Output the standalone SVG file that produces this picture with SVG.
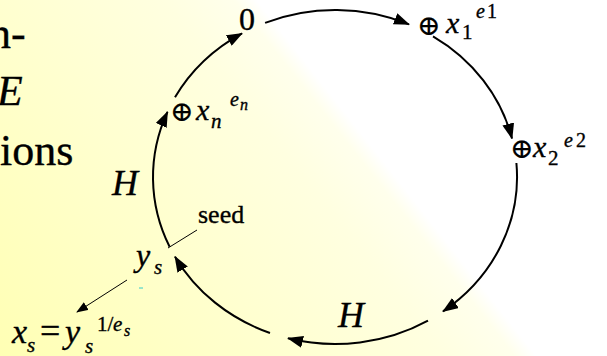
<svg xmlns="http://www.w3.org/2000/svg" width="607" height="356" viewBox="0 0 607 356">
  <defs>
    <linearGradient id="bg" gradientUnits="userSpaceOnUse" x1="-173" y1="136" x2="375" y2="-295">
      <stop offset="0" stop-color="#FFFFB4"/>
      <stop offset="0.25" stop-color="#FFFFCA"/>
      <stop offset="0.5" stop-color="#FFFFE0"/>
      <stop offset="0.58" stop-color="#FFFFEC"/>
      <stop offset="0.605" stop-color="#FFFFFF"/>
      <stop offset="1" stop-color="#FFFFFF"/>
    </linearGradient>
    <marker id="ah" viewBox="0 0 16 12" refX="15" refY="6" markerWidth="16" markerHeight="12" markerUnits="userSpaceOnUse" orient="auto">
      <path d="M0,0 L16,6 L0,12 z" fill="#000"/>
    </marker>
    <marker id="ahs" viewBox="0 0 12 9" refX="11" refY="4.5" markerWidth="12" markerHeight="9" markerUnits="userSpaceOnUse" orient="auto">
      <path d="M0,0 L12,4.5 L0,9 z" fill="#000"/>
    </marker>
  </defs>
  <style>
    text { font-family: "Liberation Serif", "DejaVu Serif", serif; fill: #000; stroke: #000; stroke-width: 0.35; }
    .i { font-style: italic; }
    .op { font-family: "DejaVu Serif", "DejaVu Sans", serif; stroke-width: 0.2; }
    .arc { fill: none; stroke: #000; stroke-width: 2; marker-end: url(#ah); }
    .thin { fill: none; stroke: #000; stroke-width: 1; }
  </style>

  <rect x="0" y="0" width="607" height="356" fill="url(#bg)"/>

  <g id="slide-text">
    <text x="-11" y="48" font-size="44">n-</text>
    <text class="i" x="-3" y="105" font-size="42">E</text>
    <text x="0" y="165" font-size="44">ions</text>
  </g>

  <g id="connectors">
    <path class="arc" d="M265.1,22.9 A182,167 0 0 1 409,24.4"/>
    <path class="arc" d="M433,36.4 A182,167 0 0 1 512,138.5"/>
    <path class="arc" d="M516.4,163 A182,167 0 0 1 443,311.4"/>
    <path class="arc" d="M428,320.6 A182,167 0 0 1 288,338.3"/>
    <path class="arc" d="M270,333 A182,167 0 0 1 175,256.7"/>
    <path class="arc" d="M169.6,246.8 A182,167 0 0 1 167.5,111.8"/>
    <path class="arc" d="M175,97.3 A182,167 0 0 1 242,33.4"/>
    <path class="thin" d="M197,230 L168,248"/>
    <path class="thin" d="M127,280 L77,312" marker-end="url(#ahs)"/>
    <path d="M139,288 L143,288" stroke="#33CCCC" stroke-width="1"/>
    <text class="i" x="112" y="195" font-size="36">H</text>
    <text class="i" x="338" y="327" font-size="36">H</text>
    <text x="198" y="223" font-size="26">seed</text>
  </g>

  <g id="node-0">
    <text x="239" y="30" font-size="32">0</text>
  </g>

  <g id="node-x1">
    <text class="op" x="417" y="34.5" font-size="28">⊕</text>
    <text class="i" x="446" y="33" font-size="30">x</text>
    <text x="462" y="39" font-size="21">1</text>
    <text class="i" x="476" y="18" font-size="20">e</text>
    <text x="487" y="18" font-size="20">1</text>
  </g>

  <g id="node-x2">
    <text class="op" x="510" y="157.5" font-size="28">⊕</text>
    <text class="i" x="533" y="157" font-size="30">x</text>
    <text x="548" y="165" font-size="21">2</text>
    <text class="i" x="564" y="147" font-size="20">e</text>
    <text x="576" y="147" font-size="20">2</text>
  </g>

  <g id="node-xn">
    <text class="op" x="170" y="120.5" font-size="28">⊕</text>
    <text class="i" x="196" y="120" font-size="30">x</text>
    <text class="i" x="211" y="128" font-size="21">n</text>
    <text class="i" x="230" y="106" font-size="20">e</text>
    <text class="i" x="240" y="110" font-size="16">n</text>
  </g>

  <g id="node-ys">
    <text class="i" x="136" y="266" font-size="32">y</text>
    <text class="i" x="154" y="274" font-size="21">s</text>
  </g>

  <g id="node-xs">
    <text class="i" x="12" y="343" font-size="34">x</text>
    <text class="i" x="27" y="352" font-size="21">s</text>
    <text x="40" y="343" font-size="36">=</text>
    <text class="i" x="65" y="343" font-size="34">y</text>
    <text class="i" x="85" y="353" font-size="21">s</text>
    <text x="97" y="331" font-size="21">1/</text>
    <text class="i" x="113" y="331" font-size="21">e</text>
    <text class="i" x="124" y="336" font-size="16">s</text>
  </g>
</svg>
